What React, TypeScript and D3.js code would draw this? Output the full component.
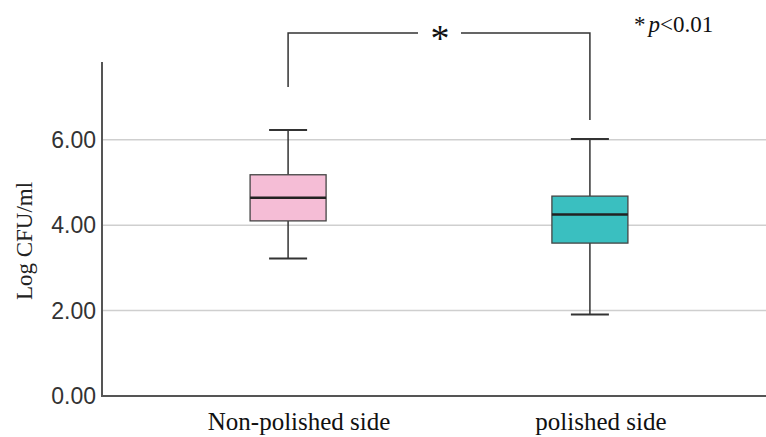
import React from "react";
import * as d3 from "d3";

const categories = ["Non-polished side", "polished side"];
const maxVals = [6.23, 6.02];
const q3Vals = [5.18, 4.68];
const medianVals = [4.64, 4.25];
const q1Vals = [4.1, 3.58];
const minVals = [3.22, 1.91];
const fills = ["#f5bdd6", "#3abfc0"];
const yTicks = [0, 2, 4, 6];

export default function App() {
  const W = 766, H = 437;
  const y = d3.scaleLinear().domain([0, 7.82]).range([396, 62]);
  const x = d3.scalePoint<string>().domain(categories).range([107, 771]).padding(0.6);
  const cx = (c: string) => x(c) as number;
  const boxW = 76, capW = 38;
  const xl = cx(categories[0]), xr = cx(categories[1]);
  const topY = 33;
  const serif = "Liberation Serif, Times New Roman, serif";
  return (
    <svg width={W} height={H} style={{ position: "absolute", left: 0, top: 0, background: "#fff" }}>
      {yTicks.filter(t => t > 0).map(t => (
        <line key={t} x1={102} x2={W} y1={y(t)} y2={y(t)} stroke="#cfcfcf" strokeWidth={1.5} />
      ))}
      {yTicks.map(t => (
        <text key={t} x={96} y={y(t)} dy="0.36em" textAnchor="end" fontFamily="Liberation Sans, Arial" fontSize={23} fill="#333">
          {d3.format(".2f")(t)}
        </text>
      ))}
      <text transform={`translate(32,241) rotate(-90)`} textAnchor="middle" fontFamily={serif} fontSize={23} fill="#222">
        Log CFU/ml
      </text>
      {categories.map((c, i) => {
        const m = cx(c);
        return (
          <g key={c}>
            <line x1={m} x2={m} y1={y(maxVals[i])} y2={y(q3Vals[i])} stroke="#333" strokeWidth={1.5} />
            <line x1={m} x2={m} y1={y(q1Vals[i])} y2={y(minVals[i])} stroke="#333" strokeWidth={1.5} />
            <line x1={m - capW / 2} x2={m + capW / 2} y1={y(maxVals[i])} y2={y(maxVals[i])} stroke="#333" strokeWidth={2} />
            <line x1={m - capW / 2} x2={m + capW / 2} y1={y(minVals[i])} y2={y(minVals[i])} stroke="#333" strokeWidth={2} />
            <rect x={m - boxW / 2} y={y(q3Vals[i])} width={boxW} height={y(q1Vals[i]) - y(q3Vals[i])} fill={fills[i]} stroke="#444" strokeWidth={1.3} />
            <line x1={m - boxW / 2} x2={m + boxW / 2} y1={y(medianVals[i])} y2={y(medianVals[i])} stroke="#222" strokeWidth={2.5} />
            <text x={m + 11} y={430} textAnchor="middle" fontFamily={serif} fontSize={25} fill="#111">
              {c}
            </text>
          </g>
        );
      })}
      <line x1={102} x2={102} y1={62} y2={397} stroke="#555" strokeWidth={2} />
      <line x1={101} x2={W} y1={396} y2={396} stroke="#555" strokeWidth={2} />
      <path d={`M${xl},87 V${topY} H418`} fill="none" stroke="#333" strokeWidth={1.5} />
      <path d={`M461,${topY} H${xr} V120`} fill="none" stroke="#333" strokeWidth={1.5} />
      <text x={440} y={51} textAnchor="middle" fontFamily={serif} fontSize={38} fill="#111">*</text>
      <text x={634} y={32} fontFamily={serif} fontSize={23} fill="#111">
        *<tspan dx={3} fontStyle="italic">p</tspan>&lt;0.01
      </text>
    </svg>
  );
}
